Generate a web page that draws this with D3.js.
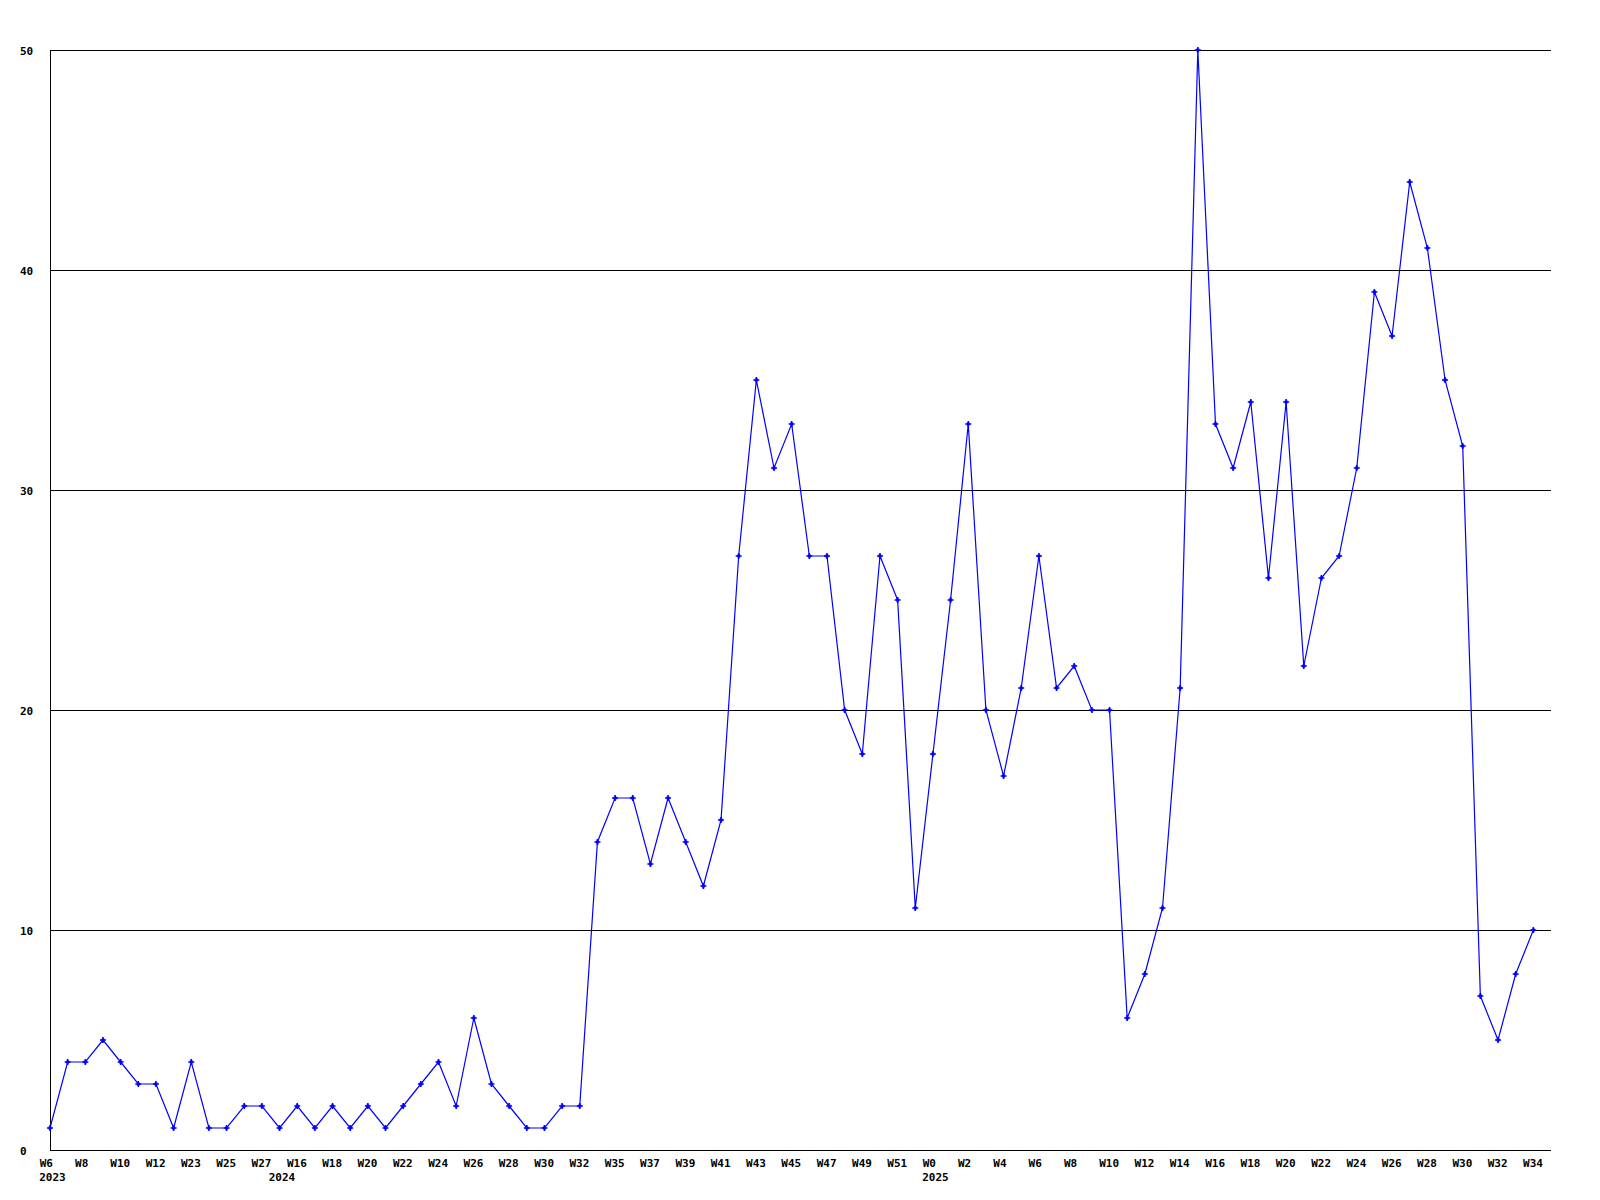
<!DOCTYPE html>
<html>
<head>
<meta charset="utf-8">
<script src="https://cdn.jsdelivr.net/npm/d3@7"></script>
<style>
  html, body { margin: 0; padding: 0; background: #fff; }
  svg text { font-family: "DejaVu Sans Mono", "Liberation Mono", monospace; font-weight: bold; font-size: 11px; fill: #000; }
</style>
</head>
<body>
<svg id="chart" width="1600" height="1200"></svg>
<script>
// ---- data ----
const years = [
  "2023","2023","2023","2023","2023","2023","2023","2023","2023","2023","2023","2023","2023",
  "2024","2024","2024","2024","2024","2024","2024","2024","2024","2024","2024","2024","2024","2024","2024","2024","2024","2024","2024","2024","2024","2024","2024","2024","2024","2024","2024","2024","2024","2024","2024","2024","2024","2024","2024","2024","2024",
  "2025","2025","2025","2025","2025","2025","2025","2025","2025","2025","2025","2025","2025","2025","2025","2025","2025","2025","2025","2025","2025","2025","2025","2025","2025","2025","2025","2025","2025","2025","2025","2025","2025","2025","2025"
];
const weeks = [
  "W6","W7","W8","W9","W10","W11","W12","W13","W23","W24","W25","W26","W27",
  "W15","W16","W17","W18","W19","W20","W21","W22","W23","W24","W25","W26","W27","W28","W29","W30","W31","W32","W33","W35","W36","W37","W38","W39","W40","W41","W42","W43","W44","W45","W46","W47","W48","W49","W50","W51","W52",
  "W0","W1","W2","W3","W4","W5","W6","W7","W8","W9","W10","W11","W12","W13","W14","W15","W16","W17","W18","W19","W20","W21","W22","W23","W24","W25","W26","W27","W28","W29","W30","W31","W32","W33","W34"
];
const values = [
  1,4,4,5,4,3,3,1,4,1,1,2,2,
  1,2,1,2,1,2,1,2,3,4,2,6,3,2,1,1,2,2,14,16,16,13,16,14,12,15,27,35,31,33,27,27,20,18,27,25,11,
  18,25,33,20,17,21,27,21,22,20,20,6,8,11,21,50,33,31,34,26,34,22,26,27,31,39,37,44,41,35,32,7,5,8,10
];
const yTicks = [0,10,20,30,40,50];

// ---- layout ----
const mLeft = 50, mRight = 1551, mTop = 50, mBottom = 1150;
const labelShift = -10.8;
const keys = weeks.map((w,i) => years[i] + "-" + w + "-" + i);
const step = (mRight - mLeft) / keys.length;

const x = d3.scalePoint().domain(keys).range([mLeft, mRight - step]);
const y = d3.scaleLinear().domain([0, 50]).range([mBottom, mTop]);

const svg = d3.select("#chart");
const fontStyle = sel => sel.style("font-size", "11px")
  .style("font-family", '"DejaVu Sans Mono", monospace').style("font-weight", "bold").attr("fill", "#000");

// grid lines
svg.append("g").selectAll("line").data(yTicks).join("line")
  .attr("x1", mLeft).attr("x2", mRight)
  .attr("y1", d => y(d) + 0.5).attr("y2", d => y(d) + 0.5)
  .attr("stroke", "#000").attr("stroke-width", 1).attr("shape-rendering", "crispEdges");

// y axis line
svg.append("line")
  .attr("x1", mLeft + 0.5).attr("x2", mLeft + 0.5)
  .attr("y1", mTop).attr("y2", mBottom + 1)
  .attr("stroke", "#000").attr("shape-rendering", "crispEdges");

// y labels
const yAxis = svg.append("g").attr("transform", `translate(${mLeft},0)`)
  .call(d3.axisLeft(y).tickValues(yTicks).tickSize(0).tickFormat(d3.format("d")));
yAxis.select(".domain").remove();
yAxis.selectAll("text").attr("text-anchor", "start").attr("x", 20 - mLeft).attr("dy", null).attr("y", 4.5)
  .call(fontStyle);

// x labels
const tickKeys = keys.filter((k,i) => i % 2 === 0);
const xAxis = svg.append("g").attr("transform", `translate(0,${mBottom})`)
  .call(d3.axisBottom(x).tickValues(tickKeys).tickSize(0).tickFormat(k => weeks[keys.indexOf(k)]));
xAxis.select(".domain").remove();
xAxis.selectAll("text").attr("text-anchor", "start").attr("x", labelShift)
  .attr("y", 16.5).attr("dy", null)
  .call(fontStyle);

// year labels at first point of each year
const yearStarts = keys.map((k,i) => i).filter(i => i === 0 || years[i] !== years[i-1]);
svg.append("g").selectAll("text").data(yearStarts).join("text")
  .attr("x", i => x(keys[i]) + labelShift)
  .attr("y", mBottom + 30.5)
  .attr("text-anchor", "start")
  .text(i => years[i])
  .call(fontStyle);

// line
const line = d3.line().x((d,i) => x(keys[i])).y(d => y(d));
svg.append("path").datum(values)
  .attr("d", line)
  .attr("fill", "none").attr("stroke", "#0000ff").attr("stroke-width", 1.2);

// markers
svg.append("g").selectAll("path").data(values).join("path")
  .attr("transform", (d,i) => `translate(${x(keys[i])},${y(d)})`)
  .attr("d", "M-3,0H3M0,-3V3")
  .attr("stroke", "#0000ff").attr("stroke-width", 1.6).attr("fill", "none");
svg.append("g").selectAll("rect").data(values).join("rect")
  .attr("x", (d,i) => x(keys[i]) - 1.5).attr("y", d => y(d) - 1.5)
  .attr("width", 3).attr("height", 3).attr("fill", "#0000ff");
</script>
</body>
</html>
